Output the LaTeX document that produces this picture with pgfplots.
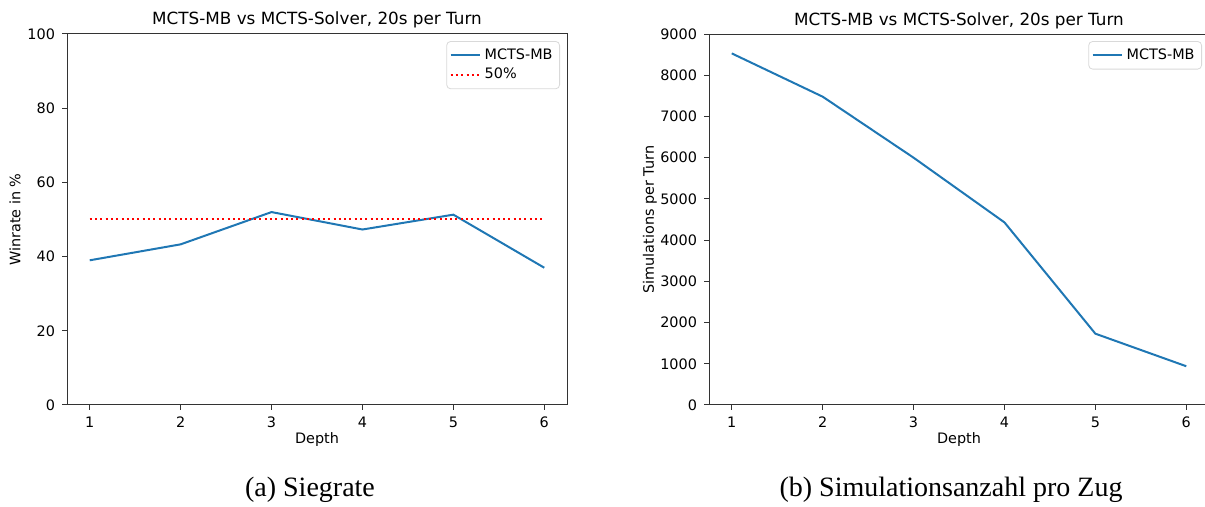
\documentclass[border=0pt]{standalone}
\usepackage{pgfplots}
\pgfplotsset{compat=1.18}
\usepackage{fontspec}
\setmainfont{DejaVu Sans}
\newfontfamily\capfont{Liberation Serif}
\definecolor{mplblue}{HTML}{1F77B4}
\pgfplotsset{
  mplstyle/.style={
    scale only axis, width=250pt, height=185.5pt,
    xmin=0.75, xmax=6.25, xtick={1,...,6},
    axis line style={black!80, line width=0.5pt},
    tick align=outside, major tick length=2.5pt,
    tick style={black!80, line width=0.5pt},
    xtick pos=bottom, ytick pos=left,
    font=\fontsize{7.2}{8.6}\selectfont,
    /pgf/number format/assume math mode=true,
    /pgf/number format/1000 sep={},
    scaled y ticks=false,
    % default title style already shifts by 6pt; -1.5pt gives 4.5pt in total
    title style={font=\fontsize{8.4}{10}\selectfont, at={(axis description cs:0.5,1)}, anchor=base, yshift=-1.5pt},
    xlabel style={at={(axis description cs:0.5,-0.094)}, anchor=center},
    legend style={at={(0.986,0.981)}, anchor=north east, draw=black!15, rounded corners=2pt,
      font=\fontsize{7.2}{8.6}\selectfont, row sep=-1pt, inner sep=1.5pt,
      nodes={inner sep=2pt}},
    legend image code/.code={\draw[#1] (0pt,0pt) -- (14.5pt,0pt);},
    legend cell align=left,
    title={MCTS-MB vs MCTS-Solver, 20s per Turn},
    xlabel={Depth},
  }
}
\begin{document}
\begin{tikzpicture}
\begin{axis}[mplstyle, at={(33.5pt,51pt)}, anchor=south west,
    ymin=0, ymax=100, ytick={0,20,...,100},
    ylabel={Winrate in \%},
    ylabel style={at={(axis description cs:-0.104,0.5)}, anchor=center}]
  \addplot[mplblue, line width=1pt] coordinates {
    (1, 39.0) (2, 43.3) (3, 52.0) (4, 47.3) (5, 51.3) (6, 37.0)
  };
  \addplot[red, line width=1pt, dash pattern=on 1pt off 1.65pt] coordinates {
    (1, 50) (6, 50)
  };
  \legend{MCTS-MB, 50\%}
\end{axis}
\begin{axis}[mplstyle, at={(354.5pt,51pt)}, anchor=south west,
    ymin=0, ymax=9000, ytick={0,1000,...,9000},
    ylabel={Simulations per Turn},
    ylabel style={at={(axis description cs:-0.118,0.5)}, anchor=center}]
  \addplot[mplblue, line width=1pt] coordinates {
    (1, 8530) (2, 7480) (3, 6000) (4, 4430) (5, 1730) (6, 940)
  };
  \legend{MCTS-MB}
\end{axis}
\node[anchor=base, font=\capfont\fontsize{14}{16}\selectfont] at (155pt,5pt) {(a) Siegrate};
\node[anchor=base, font=\capfont\fontsize{14}{16}\selectfont] at (475.5pt,5pt) {(b) Simulationsanzahl pro Zug};
\pgfresetboundingbox
\useasboundingbox (0,0) rectangle (602.5pt,253.5pt);
\end{tikzpicture}
\end{document}
